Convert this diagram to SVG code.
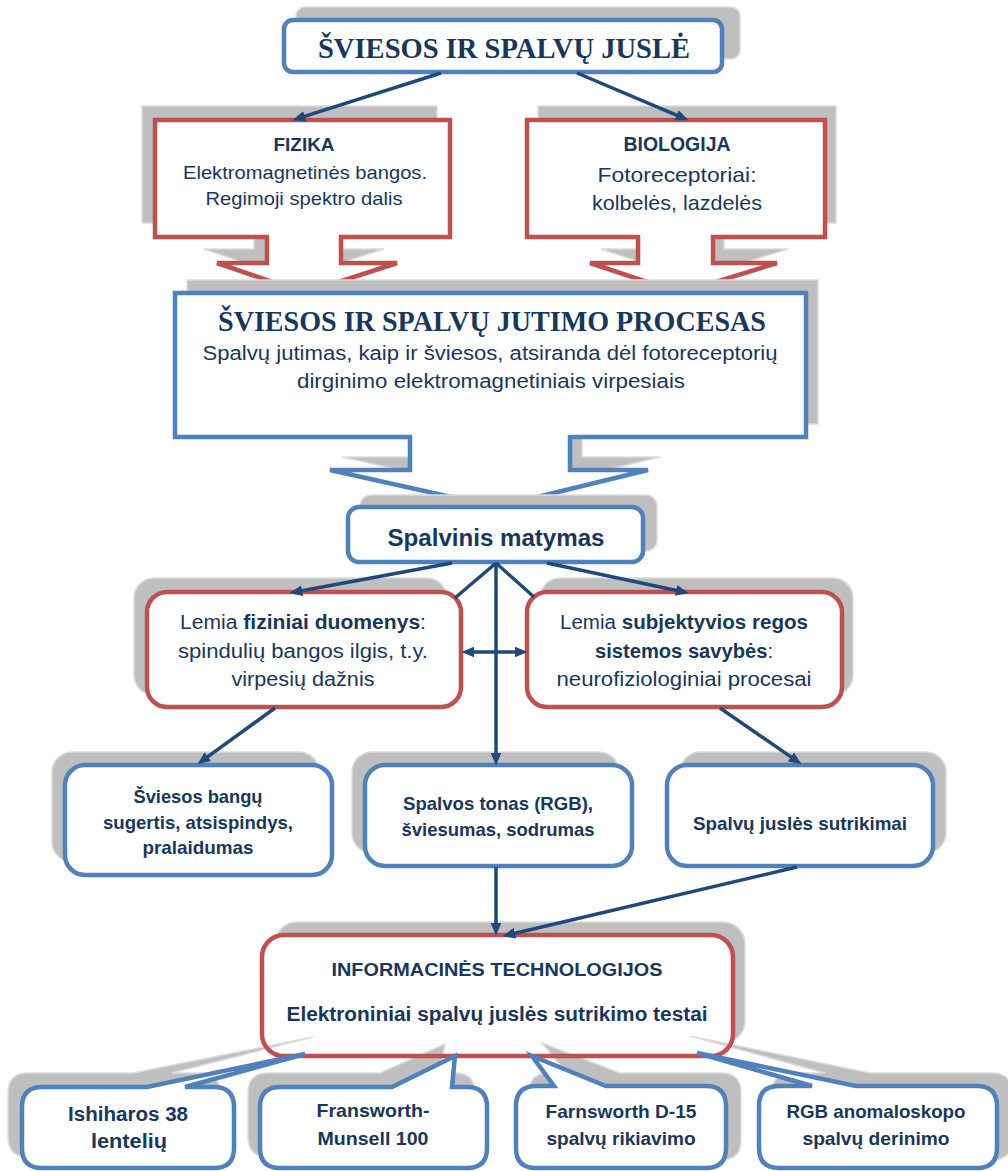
<svg xmlns="http://www.w3.org/2000/svg" width="1008" height="1171" viewBox="0 0 1008 1171">
<defs>
<marker id="ah" markerUnits="userSpaceOnUse" markerWidth="13" markerHeight="11" viewBox="0 0 12 10" refX="4" refY="5" orient="auto-start-reverse">
<path d="M0,0 L12,5 L0,10 Z" fill="#1F497D"/>
</marker>
<style>
.sh{fill:#BFBFBF;stroke:#DCDCDC;stroke-width:1.5}
.bl{fill:#fff;stroke:#4F81BD;stroke-width:4.5;stroke-linejoin:miter}
.rd{fill:#fff;stroke:#C0504D;stroke-width:4.5;stroke-linejoin:miter}
.ser{font-family:"Liberation Serif","Times New Roman",serif;font-weight:bold;fill:#17375E;text-anchor:middle}
.sa{font-family:"Liberation Sans",Arial,sans-serif;fill:#17375E;text-anchor:middle}
.b{font-weight:bold}
.cn{fill:none;stroke:#1F497D;stroke-width:3.5}
</style>
</defs>
<rect width="1008" height="1171" fill="#fff"/>

<g id="n-top">
<rect class="sh" x="296" y="7" width="444" height="52" rx="9"/>
<rect class="bl" x="284" y="20" width="438" height="52" rx="9"/>
<text class="ser" x="504" y="58" font-size="30" textLength="372" lengthAdjust="spacingAndGlyphs">ŠVIESOS IR SPALVŲ JUSLĖ</text>
</g>

<g id="n-fizika">
<path class="sh" d="M142,106 H437 V223 H328 V249 H384 L291,279 L204,249 H254 V223 H142 Z"/>
<path class="rd" d="M155,120 H450 V237 H341 V263 H397 L305,293 L217,263 H267 V237 H155 Z"/>
<text class="sa b" x="304" y="151" font-size="19" textLength="61" lengthAdjust="spacingAndGlyphs">FIZIKA</text>
<text class="sa" x="305" y="179" font-size="19" textLength="244" lengthAdjust="spacingAndGlyphs">Elektromagnetinės bangos.</text>
<text class="sa" x="304" y="205" font-size="19" textLength="197" lengthAdjust="spacingAndGlyphs">Regimoji spektro dalis</text>
</g>

<g id="n-biologija">
<path class="sh" d="M538,106 H836 V223 H724 V249 H788 L691,279 L601,249 H649 V223 H538 Z"/>
<path class="rd" d="M527,120 H825 V237 H713 V263 H777 L680,293 L590,263 H638 V237 H527 Z"/>
<text class="sa b" x="677" y="151" font-size="20" textLength="107" lengthAdjust="spacingAndGlyphs">BIOLOGIJA</text>
<text class="sa" x="677" y="182" font-size="21" textLength="159" lengthAdjust="spacingAndGlyphs">Fotoreceptoriai:</text>
<text class="sa" x="677" y="210" font-size="21" textLength="170" lengthAdjust="spacingAndGlyphs">kolbelės, lazdelės</text>
</g>

<g id="n-procesas">
<path class="sh" d="M187,280 H818 V424 H582 V457 H660 L508,494 L342,457 H422 V424 H187 Z"/>
<path class="bl" d="M175,293 H806 V437 H570 V470 H648 L496,507 L330,470 H410 V437 H175 Z"/>
<text class="ser" x="492" y="331" font-size="30" textLength="548" lengthAdjust="spacingAndGlyphs">ŠVIESOS IR SPALVŲ JUTIMO PROCESAS</text>
<text class="sa" x="490" y="360" font-size="20" textLength="575" lengthAdjust="spacingAndGlyphs">Spalvų jutimas, kaip ir šviesos, atsiranda dėl fotoreceptorių</text>
<text class="sa" x="491" y="388" font-size="20" textLength="388" lengthAdjust="spacingAndGlyphs">dirginimo elektromagnetiniais virpesiais</text>
</g>

<g id="n-spalvinis">
<rect class="sh" x="360" y="495" width="297" height="56" rx="11"/>
<rect class="bl" x="348" y="507" width="295" height="55" rx="11"/>
<text class="sa b" x="496" y="546" font-size="23" textLength="217" lengthAdjust="spacingAndGlyphs">Spalvinis matymas</text>
</g>

<g id="n-fiziniai">
<rect class="sh" x="134" y="578" width="313" height="117" rx="20"/>
<rect class="rd" x="147" y="592" width="314" height="115" rx="20"/>
<text class="sa" x="303" y="629" font-size="20" textLength="246" lengthAdjust="spacingAndGlyphs">Lemia <tspan class="b">fiziniai duomenys</tspan>:</text>
<text class="sa" x="303" y="658" font-size="20" textLength="250" lengthAdjust="spacingAndGlyphs">spindulių bangos ilgis, t.y.</text>
<text class="sa" x="303" y="686" font-size="20" textLength="143" lengthAdjust="spacingAndGlyphs">virpesių dažnis</text>
</g>

<g id="n-subjektyvios">
<rect class="sh" x="540" y="578" width="313" height="117" rx="20"/>
<rect class="rd" x="527" y="592" width="315" height="115" rx="20"/>
<text class="sa" x="684" y="629" font-size="20" textLength="248" lengthAdjust="spacingAndGlyphs">Lemia <tspan class="b">subjektyvios regos</tspan></text>
<text class="sa" x="684" y="658" font-size="20" textLength="178" lengthAdjust="spacingAndGlyphs"><tspan class="b">sistemos savybės</tspan>:</text>
<text class="sa" x="684" y="686" font-size="20" textLength="255" lengthAdjust="spacingAndGlyphs">neurofiziologiniai procesai</text>
</g>

<g id="n-sviesos">
<rect class="sh" x="52" y="752" width="267" height="110" rx="20"/>
<rect class="bl" x="65" y="765" width="267" height="110" rx="20"/>
<text class="sa b" x="198" y="803" font-size="19" textLength="129" lengthAdjust="spacingAndGlyphs">Šviesos bangų</text>
<text class="sa b" x="198" y="829" font-size="19" textLength="190" lengthAdjust="spacingAndGlyphs">sugertis, atsispindys,</text>
<text class="sa b" x="198" y="854" font-size="19" textLength="111" lengthAdjust="spacingAndGlyphs">pralaidumas</text>
</g>

<g id="n-tonas">
<rect class="sh" x="352" y="752" width="267" height="101" rx="20"/>
<rect class="bl" x="365" y="765" width="267" height="101" rx="20"/>
<text class="sa b" x="498" y="810" font-size="19" textLength="190" lengthAdjust="spacingAndGlyphs">Spalvos tonas (RGB),</text>
<text class="sa b" x="498" y="836" font-size="19" textLength="193" lengthAdjust="spacingAndGlyphs">šviesumas, sodrumas</text>
</g>

<g id="n-sutrikimai">
<rect class="sh" x="680" y="752" width="266" height="101" rx="20"/>
<rect class="bl" x="667" y="765" width="266" height="101" rx="20"/>
<text class="sa b" x="800" y="830" font-size="19" textLength="214" lengthAdjust="spacingAndGlyphs">Spalvų juslės sutrikimai</text>
</g>

<g id="n-it">
<rect class="sh" x="275" y="922" width="470" height="121" rx="22"/>
<rect x="262" y="935" width="471" height="121" rx="22" fill="#fff"/>
<path class="sh" d="M28,1073 H133 L313,1037 L172,1073 H200 Q220,1073 220,1093 V1137 Q220,1157 200,1157 H28 Q8,1157 8,1137 V1093 Q8,1073 28,1073 Z"/>
<path class="sh" d="M268,1073 H380 L445,1044 L440,1073 H455 Q475,1073 475,1093 V1137 Q475,1157 455,1157 H268 Q248,1157 248,1137 V1093 Q248,1073 268,1073 Z"/>
<path class="sh" d="M549,1073 H567 L542,1043 L620,1073 H721 Q741,1073 741,1093 V1140 Q741,1160 721,1160 H549 Q529,1160 529,1140 V1093 Q529,1073 549,1073 Z"/>
<path class="sh" d="M792,1073 H825 L690,1036 L870,1073 H992 Q1012,1073 1012,1093 V1140 Q1012,1160 992,1160 H792 Q772,1160 772,1140 V1093 Q772,1073 792,1073 Z"/>
<rect x="262" y="935" width="471" height="121" rx="22" fill="none" stroke="#C0504D" stroke-width="4.5"/>
<text class="sa b" x="497" y="976" font-size="19" textLength="331" lengthAdjust="spacingAndGlyphs">INFORMACINĖS TECHNOLOGIJOS</text>
<text class="sa b" x="497" y="1021" font-size="20" textLength="421" lengthAdjust="spacingAndGlyphs">Elektroniniai spalvų juslės sutrikimo testai</text>
</g>

<g id="n-ishiharos">
<path class="bl" d="M42,1087 H147 L305,1054 L185,1087 H214 Q234,1087 234,1107 V1148 Q234,1168 214,1168 H42 Q22,1168 22,1148 V1107 Q22,1087 42,1087 Z"/>
<text class="sa b" x="128" y="1121" font-size="20" textLength="120" lengthAdjust="spacingAndGlyphs">Ishiharos 38</text>
<text class="sa b" x="129" y="1148" font-size="20" textLength="76" lengthAdjust="spacingAndGlyphs">lentelių</text>
</g>

<g id="n-fransworth">
<path class="bl" d="M280,1087 H392 L455,1056 L452,1087 H467 Q487,1087 487,1107 V1148 Q487,1168 467,1168 H280 Q260,1168 260,1148 V1107 Q260,1087 280,1087 Z"/>
<text class="sa b" x="373" y="1117" font-size="19" textLength="113" lengthAdjust="spacingAndGlyphs">Fransworth-</text>
<text class="sa b" x="373" y="1145" font-size="19" textLength="111" lengthAdjust="spacingAndGlyphs">Munsell 100</text>
</g>

<g id="n-farnsworth">
<path class="bl" d="M536,1086 H554 L532,1056 L606,1086 H706 Q726,1086 726,1106 V1148 Q726,1168 706,1168 H536 Q516,1168 516,1148 V1106 Q516,1086 536,1086 Z"/>
<text class="sa b" x="621" y="1118" font-size="19" textLength="151" lengthAdjust="spacingAndGlyphs">Farnsworth D-15</text>
<text class="sa b" x="621" y="1145" font-size="19" textLength="149" lengthAdjust="spacingAndGlyphs">spalvų rikiavimo</text>
</g>

<g id="n-rgb">
<path class="bl" d="M779,1086 H812 L697,1053 L856,1086 H977 Q997,1086 997,1106 V1148 Q997,1168 977,1168 H779 Q759,1168 759,1148 V1106 Q759,1086 779,1086 Z"/>
<text class="sa b" x="876" y="1118" font-size="19" textLength="179" lengthAdjust="spacingAndGlyphs">RGB anomaloskopo</text>
<text class="sa b" x="876" y="1145" font-size="19" textLength="147" lengthAdjust="spacingAndGlyphs">spalvų derinimo</text>
</g>

<g id="connectors">
<line class="cn" x1="441" y1="73" x2="300.6" y2="117.6" marker-end="url(#ah)"/>
<line class="cn" x1="577" y1="73" x2="680.6" y2="116.9" marker-end="url(#ah)"/>
<line class="cn" x1="452" y1="563" x2="297.9" y2="591.5" marker-end="url(#ah)"/>
<line class="cn" x1="547" y1="563" x2="680.2" y2="591.3" marker-end="url(#ah)"/>
<line class="cn" x1="496" y1="563" x2="496" y2="757" marker-end="url(#ah)"/>
<line class="cn" x1="496" y1="563" x2="455" y2="598"/>
<line class="cn" x1="496" y1="563" x2="534" y2="597"/>
<line class="cn" x1="470" y1="652" x2="519" y2="652" marker-start="url(#ah)" marker-end="url(#ah)"/>
<line class="cn" x1="275" y1="708" x2="204.4" y2="759.2" marker-end="url(#ah)"/>
<line class="cn" x1="720" y1="708" x2="794.5" y2="759.4" marker-end="url(#ah)"/>
<line class="cn" x1="496" y1="867" x2="496" y2="927" marker-end="url(#ah)"/>
<line class="cn" x1="797" y1="867" x2="510.8" y2="934.2" marker-end="url(#ah)"/>
</g>
</svg>
